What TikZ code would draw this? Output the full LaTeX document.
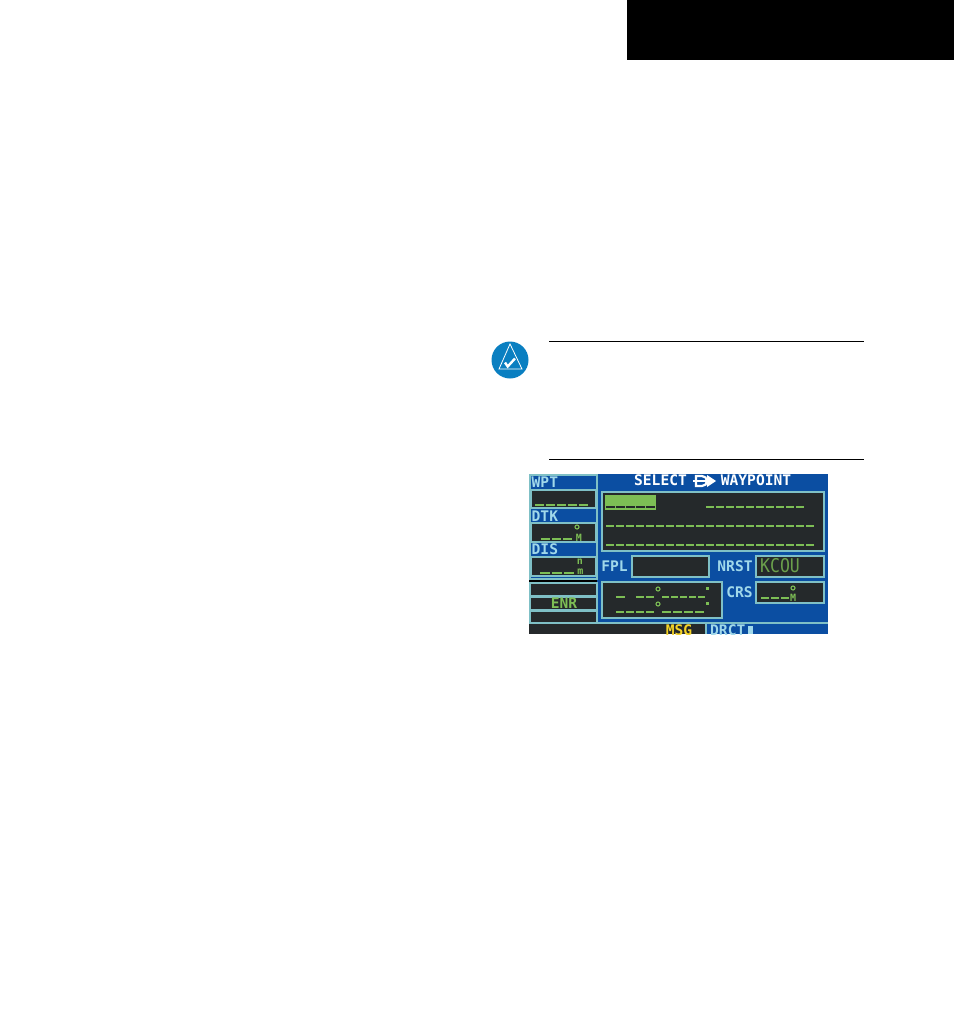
\documentclass[tikz,border=0pt]{standalone}
\usepackage{fontspec}
\setmonofont{DejaVu Sans Mono}
\definecolor{lcdblue}{HTML}{0B4EA2}
\definecolor{lcddark}{HTML}{25292B}
\definecolor{lcdedge}{HTML}{7FC0C6}
\definecolor{lcdgreen}{HTML}{7DBE55}
\definecolor{lcdlabel}{HTML}{A0D8EA}
\definecolor{lcdyellow}{HTML}{F5D327}
\definecolor{noteblue}{HTML}{0A7FC1}
\tikzset{
    lcdbox/.style={draw=lcdedge,fill=lcddark,line width=1.15pt},
    seg/.style={lcdgreen,line width=2.6pt},
    lcdtext/.style={font=\ttfamily\bfseries\fontsize{14.6}{14.6}\selectfont,inner sep=0pt,lcdlabel},
    smalltext/.style={font=\ttfamily\bfseries\fontsize{10}{10}\selectfont,inner sep=0pt,lcdgreen},
    rulerline/.style={black,line width=.8pt}
}
\begin{document}
\begin{tikzpicture}[x=1pt,y=-1pt]
\useasboundingbox (0,0) rectangle (954,1014);
\fill[black] (627,0) rectangle (954,60);
% note mark
\fill[noteblue] (510,360) circle (18.5);
\draw[white,line width=.8pt] (510,344)--(499,369)--(522,369)--cycle;
\draw[white,line width=2.4pt] (505,362.5)--(507.7,366.5)--(515,358.5);
\draw[rulerline] (549,341)--(864,341);
\draw[rulerline] (549,459)--(864,459);
% screen
\begin{scope}
\clip (529,474) rectangle (828,634);
\fill[lcdblue] (529,474) rectangle (828,634);
\draw[lcdedge,line width=1.15pt] (530,475) rectangle (597,579);
\foreach \ya/\yb in {490/508,523/542,557/576}
{
    \draw[lcdbox] (531,\ya) rectangle (596,\yb);
}
\fill[lcddark] (529,581) rectangle (597,623);
\draw[black,line width=1.4pt] (529,581)--(597,581);
\foreach \ya/\yb in {583/596,597/610,611/623}
{
    \draw[lcdbox] (530,\ya) rectangle (597,\yb);
}
\draw[lcdbox] (602,492) rectangle (824,551);
\draw[lcdbox] (632,556) rectangle (709,577);
\draw[lcdbox] (756,556) rectangle (824,577);
\draw[lcdbox] (756,582) rectangle (824,603);
\draw[lcdbox] (602,582) rectangle (722,618);
\fill[lcddark] (529,623.5) rectangle (706,634);
\draw[lcdedge,line width=1.15pt] (597,623)--(828,623);
\draw[lcdedge,line width=1.15pt] (706,623)--(706,634);
% highlighted field
\fill[lcdgreen] (605,495) rectangle (656,510);
\foreach \i in {0,...,4}
{
    \draw[lcddark,line width=2.2pt] (606+10*\i,507)--++(8.5,0);
}
% dashed fields: start, period, count, row
\foreach \xs/\xp/\n/\yy in {706/10/9/507,606/10/20/526,606/10/20/545,535/11/4/505,541/11/2/539,
    540/12/2/573,636/10/1/597,662/9/4/597,616/10/3/612,662/11/3/612,761/10/2/598}
{
    \foreach \i in {0,...,\n}
    {
        \draw[seg] (\xs+\xp*\i,\yy)--++(\xp-2,0);
    }
}
\draw[seg] (616,597)--(625,597);
% degree marks
\foreach \cx/\cy in {577/527,658/589,658/604,793/588}
{
    \draw[lcdgreen,line width=1.1pt] (\cx,\cy) circle (2);
}
\fill[lcdgreen] (706,586.5) rectangle (708.5,590);
\fill[lcdgreen] (706,601.5) rectangle (708.5,605);
% direct-to symbol
\draw[white,line width=2.2pt] (696,476)--(702,476) arc (-90:90:5)--(696,486)--cycle;
\draw[white,line width=2.2pt] (693,481)--(708,481);
\fill[white] (707,475)--(716,481)--(707,487)--cycle;
\fill[lcdlabel] (748,626) rectangle (753,634);
\node[lcdtext,anchor=west] (wptlabel) at (531.5,482) {WPT};
\node[lcdtext,anchor=west] (dtklabel) at (531.5,516) {DTK};
\node[lcdtext,anchor=west] (dislabel) at (531.5,549.5) {DIS};
\node[lcdtext,white] (selectlabel) at (660.5,480.5) {SELECT};
\node[lcdtext,white] (waypointlabel) at (756,480.5) {WAYPOINT};
\node[lcdtext] (fpllabel) at (614.5,566) {FPL};
\node[lcdtext] (nrstlabel) at (735,566) {NRST};
\node[lcdtext] (crslabel) at (739.5,592) {CRS};
\node[lcdtext,lcdgreen] (enrlabel) at (564,603.5) {ENR};
\node[lcdtext,lcdyellow] (msglabel) at (679,630) {MSG};
\node[lcdtext,anchor=west] (drctlabel) at (710,630) {DRCT};
\node[font=\ttfamily\fontsize{16.5}{16.5}\selectfont,inner sep=0pt,lcdgreen!80!lcddark] (kcoulabel) at (780,566) {\scalebox{1}[1.15]{KCOU}};
\node[smalltext] (dtkunit) at (579,537.5) {M};
\node[smalltext] (disunita) at (580,562) {n};
\node[smalltext] (disunitb) at (580.5,572) {m};
\node[smalltext] (crsunit) at (793,597.5) {M};
\end{scope}
\end{tikzpicture}
\end{document}
